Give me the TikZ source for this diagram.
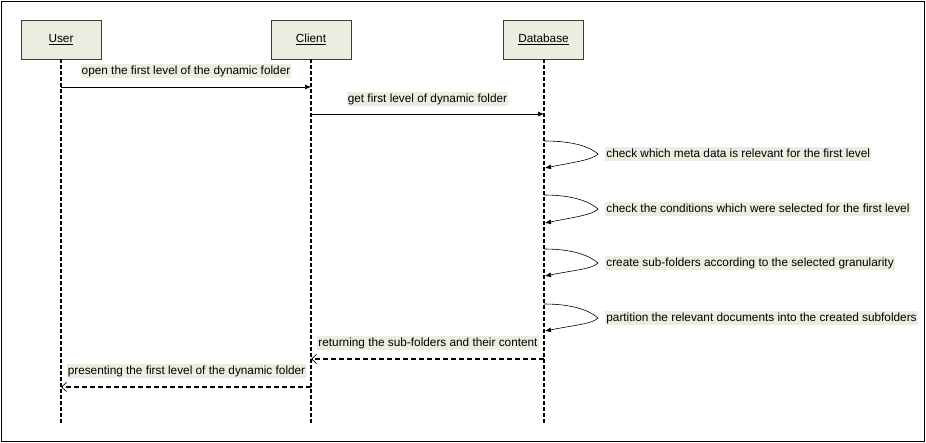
\documentclass[tikz,border=0pt]{standalone}
\usepackage{fontspec}
\setmainfont{Liberation Sans}
\usetikzlibrary{arrows.meta,calc}
\definecolor{boxfill}{RGB}{236,236,224}
\definecolor{lblfill}{RGB}{236,236,224}
\definecolor{boxdraw}{RGB}{60,60,60}
\begin{document}
\begin{tikzpicture}[x=1pt,y=-1pt,
  actor/.style={draw=boxdraw,fill=boxfill,line width=0.8pt,minimum width=80pt,minimum height=39pt,inner sep=0pt,font=\fontsize{11.8}{14}\selectfont},
  lifeline/.style={line width=1.2pt,dash pattern=on 4pt off 2pt},
  msg/.style={line width=0.6pt,-{Latex[length=6pt,width=5pt]}},
  ret/.style={line width=1.1pt,dash pattern=on 5pt off 3pt,-{Straight Barb[length=5pt,width=9pt,line width=0.7pt]}},
  self/.style={line width=0.6pt,-{Latex[length=6pt,width=5pt]}},
  lbl/.style={fill=lblfill,inner sep=1.2pt,font=\fontsize{11.8}{14}\selectfont,text height=8.8pt,text depth=2.6pt}]
\useasboundingbox (0,0) rectangle (926,443);
\draw[line width=1.5pt] (1.5,1.5) rectangle (924.5,441.5);
% actors
\node[actor] (user) at (61,39.5) {\underline{User}};
\node[actor] (client) at (311,39.5) {\underline{Client}};
\node[actor] (db) at (543.5,39.5) {\underline{Database}};
% lifeline ends
\coordinate (userEnd) at (61,424);
\coordinate (clientEnd) at (311,424);
\coordinate (dbEnd) at (544,424);
\draw[lifeline] (user.south) -- (userEnd);
\draw[lifeline] (client.south) -- (clientEnd);
\draw[lifeline] ([xshift=0.5pt]db.south) -- (dbEnd);
% message points
\coordinate (u1) at (61,87);
\coordinate (c1) at (311,87);
\coordinate (c2) at (311,114);
\coordinate (d2) at (544,114);
\coordinate (s1a) at (544,141); \coordinate (s1t) at (598,154); \coordinate (s1b) at (545,168);
\coordinate (s2a) at (544,195); \coordinate (s2t) at (598,209); \coordinate (s2b) at (545,223);
\coordinate (s3a) at (544,249); \coordinate (s3t) at (598,263); \coordinate (s3b) at (545,276);
\coordinate (s4a) at (544,304); \coordinate (s4t) at (598,318); \coordinate (s4b) at (545,331);
\coordinate (d5) at (544,359);
\coordinate (c5) at (311,359);
\coordinate (c6) at (311,387);
\coordinate (u6) at (61,387);
% messages
\draw[msg] (u1) -- (c1);
\node[lbl] (l1) at (186,71) {open the first level of the dynamic folder};
\draw[msg] (c2) -- (d2);
\node[lbl] (l2) at (427.5,99) {get first level of dynamic folder};
\foreach \i/\t in {1/{check which meta data is relevant for the first level},
                   2/{check the conditions which were selected for the first level},
                   3/{create sub-folders according to the selected granularity},
                   4/{partition the relevant documents into the created subfolders}}{
  \draw[self] (s\i a) .. controls ($(s\i a)+(30,0)$) and ($(s\i t)+(-8,-7)$) .. (s\i t)
                      .. controls ($(s\i t)+(-6,6)$) and ($(s\i b)+(30,-6)$) .. (s\i b);
  \node[lbl,anchor=west] (ls\i) at ($(s\i t)+(7,0)$) {\t};
}
\draw[ret] (d5) -- (c5);
\node[lbl] (l5) at (428,343) {returning the sub-folders and their content};
\draw[ret] (c6) -- (u6);
\node[lbl] (l6) at (186.5,371) {presenting the first level of the dynamic folder};
\end{tikzpicture}
\end{document}
